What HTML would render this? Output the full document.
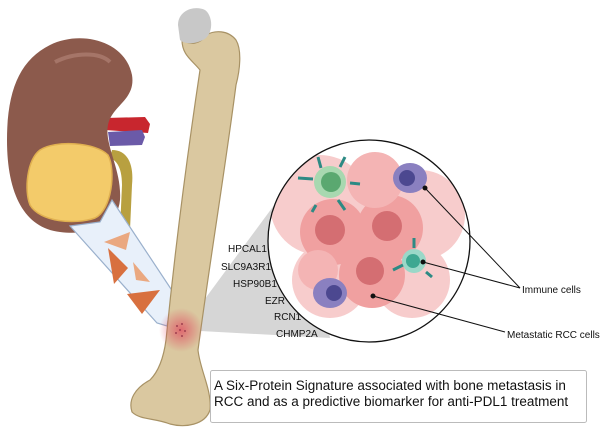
<!DOCTYPE html>
<html><head><style>
body{margin:0;background:#fff;width:600px;height:435px;overflow:hidden;font-family:"Liberation Sans",sans-serif}
</style></head><body>
<svg width="600" height="435" viewBox="0 0 600 435" xmlns="http://www.w3.org/2000/svg" font-family="Liberation Sans, sans-serif">
<defs>
<radialGradient id="glow"><stop offset="0" stop-color="#e0405a" stop-opacity=".7"/><stop offset="1" stop-color="#e0405a" stop-opacity="0"/></radialGradient>
<clipPath id="cc"><circle cx="369" cy="241" r="101"/></clipPath>
</defs>
<polygon points="182,330 300,170 330,338" fill="#d6d6d6"/>
<path d="M105,118 L145,117 L150,124 L148,133 L105,130Z" fill="#c8262e"/>
<path d="M108,132 L142,130 L145,137 L142,145 L110,146Z" fill="#6b5aa8"/>
<path d="M112,150 C128,150 134,165 132,185 L130,230 L120,230 L122,185 C122,165 115,160 110,158Z" fill="#b8a040"/>
<path d="M50,45 C80,30 125,40 132,75 C136,100 112,105 108,125 C104,145 122,170 120,200 C118,225 90,236 60,232 C25,228 7,195 7,140 C7,90 20,60 50,45Z" fill="#8c5a4c"/>
<path d="M55,62 C75,52 100,52 110,62" stroke="#a57568" stroke-width="4" fill="none"/>
<path d="M40,150 C55,140 95,142 108,155 C116,170 112,210 95,218 C75,225 40,222 30,205 C24,190 27,160 40,150Z" fill="#f3cb6a" stroke="#e0b050" stroke-width="1.5"/>
<!-- arrow box -->
<polygon points="70,226 100,222 112,200 173,292 167,326 157,323" fill="#e8f0fa" stroke="#9ab0cc" stroke-width="1.2"/>
<g fill="#d8703f">
<path d="M104,242 L130,232 L126,250 Z" fill="#eaa880"/>
<path d="M108,248 L128,268 L114,284 Z"/>
<path d="M133,262 L150,282 L136,280 Z" fill="#eaa880"/>
<path d="M127,294 L160,290 L142,314 Z"/>
</g>
<path d="M182,40 C190,45 200,45 206,35 C215,30 228,30 236,40 C242,50 240,70 236,85 C225,170 210,260 198,350 C200,370 212,390 210,410 C205,425 185,428 170,424 C155,418 140,420 132,412 C128,400 135,388 150,380 C160,370 164,355 166,340 C175,250 188,150 200,70 C192,60 182,55 182,40Z" fill="#dac8a0" stroke="#a89265" stroke-width="1.2"/>
<path d="M178,25 C178,10 195,5 205,10 C212,15 214,30 206,38 C198,44 185,45 180,40Z" fill="#c8c8c8"/>
<circle cx="181" cy="330" r="22" fill="url(#glow)"/>
<g fill="#a04050"><circle cx="177" cy="326" r="1"/><circle cx="182" cy="324" r="1"/><circle cx="180" cy="330" r="1"/><circle cx="185" cy="331" r="1"/><circle cx="176" cy="333" r="1"/><circle cx="182" cy="336" r="1"/></g>
<g clip-path="url(#cc)">
<circle cx="369" cy="241" r="101" fill="#fff"/>
<g fill="#f7cccc"><circle cx="320" cy="205" r="50"/><circle cx="420" cy="215" r="45"/><circle cx="330" cy="280" r="38"/><circle cx="412" cy="280" r="38"/></g>
<g fill="#f0a0a0"><circle cx="333" cy="232" r="33"/><circle cx="390" cy="228" r="33"/><circle cx="372" cy="275" r="33"/><circle cx="375" cy="180" r="28" fill="#f4b4b4"/><circle cx="318" cy="270" r="20" fill="#f4b4b4"/></g>
<g fill="#d46e72"><circle cx="330" cy="230" r="15"/><circle cx="387" cy="226" r="15"/><circle cx="370" cy="271" r="14"/></g>
<circle cx="330" cy="182" r="16" fill="#a8d8b0"/><circle cx="331" cy="182" r="10" fill="#5aa870"/>
<circle cx="414" cy="261" r="12" fill="#9ad8c8"/><circle cx="413" cy="261" r="7" fill="#3ea892"/>
<ellipse cx="410" cy="178" rx="17" ry="15" fill="#8a80c0"/><circle cx="407" cy="178" r="8" fill="#4c4890"/>
<ellipse cx="330" cy="293" rx="17" ry="15" fill="#8a80c0"/><circle cx="334" cy="293" r="8" fill="#4c4890"/>
<g stroke="#2d8a84" stroke-width="3"><line x1="318" y1="157" x2="321" y2="168"/><line x1="345" y1="157" x2="340" y2="167"/><line x1="298" y1="178" x2="313" y2="179"/><line x1="350" y1="183" x2="360" y2="184"/><line x1="316" y1="205" x2="312" y2="212"/><line x1="338" y1="200" x2="345" y2="210"/><line x1="414" y1="238" x2="414" y2="248"/><line x1="393" y1="270" x2="403" y2="265"/><line x1="426" y1="272" x2="432" y2="277"/></g>
</g>
<circle cx="369" cy="241" r="101" fill="none" stroke="#111" stroke-width="1.3"/>
<g stroke="#111" stroke-width="1" fill="#111">
<line x1="425" y1="188" x2="520" y2="288"/><line x1="423" y1="262" x2="520" y2="288"/><line x1="373" y1="296" x2="505" y2="332"/>
<circle cx="425" cy="188" r="2"/><circle cx="423" cy="262" r="2"/><circle cx="373" cy="296" r="2"/>
</g>
<g font-size="10" fill="#111">
<text x="522" y="293">Immune cells</text>
<text x="507" y="338">Metastatic RCC cells</text>
<text x="228" y="252">HPCAL1</text><text x="221" y="270">SLC9A3R1</text><text x="233" y="287">HSP90B1</text><text x="265" y="304">EZR</text><text x="274" y="320">RCN1</text><text x="276" y="337">CHMP2A</text>
</g>
<rect x="210.5" y="370.5" width="376" height="52" fill="#fff" stroke="#bbb" rx="2"/>
<g font-size="13.5" fill="#111"><text x="214" y="390">A Six-Protein Signature associated with bone metastasis in</text><text x="214" y="406">RCC and as a predictive biomarker for anti-PDL1 treatment</text></g>
</svg>
</body></html>
